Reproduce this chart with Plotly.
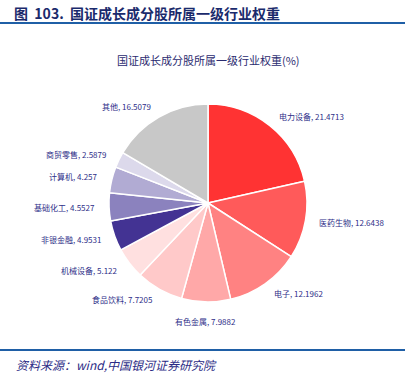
import math
import plotly.graph_objects as go

categories = ["电力设备", "医药生物", "电子", "有色金属", "食品饮料", "机械设备",
              "非银金融", "基础化工", "计算机", "商贸零售", "其他"]
values = [21.4713, 12.6438, 12.1962, 7.9882, 7.7205, 5.122,
          4.9531, 4.5527, 4.257, 2.5879, 16.5079]
colors = ["#FF3333", "#FF5A5A", "#FF8282", "#FFA8A8", "#FFC9C9", "#FFE0E0",
          "#433393", "#8B82BE", "#B1ABD3", "#DCD9EB", "#C8C8C8"]

W, H = 414, 380
cx, cy, r = 208, 203, 99
label_r = r + 12
label_color = "#2E2E88"

fig = go.Figure(go.Pie(
    labels=categories,
    values=values,
    textinfo="none",
    sort=False,
    direction="clockwise",
    rotation=0,
    marker=dict(colors=colors, line=dict(color="white", width=1.5)),
    showlegend=False,
    domain=dict(x=[(cx - r) / W, (cx + r) / W], y=[(H - cy - r) / H, (H - cy + r) / H]),
    hoverinfo="label+value",
))

annotations = []
total = sum(values)
cum = 0.0
for c, v in zip(categories, values):
    mid = (cum + v / 2) / total * 2 * math.pi
    cum += v
    s, co = math.sin(mid), math.cos(mid)
    px = cx + label_r * s
    py = cy - label_r * co
    if abs(s) < 0.25:
        xa = "center"
        ya = "top" if co < 0 else "bottom"
    else:
        xa = "left" if s > 0 else "right"
        ya = "middle"
    annotations.append(dict(
        text=f"{c}, {v:g}", xref="paper", yref="paper",
        x=px / W, y=1 - py / H, xanchor=xa, yanchor=ya, showarrow=False,
        font=dict(family="Noto Sans CJK SC", size=8, color=label_color)))

annotations += [
    dict(text="<b>图  103.  国证成长成分股所属一级行业权重</b>", xref="paper", yref="paper",
         x=12 / W, y=1 - 13 / H, xanchor="left", yanchor="middle", showarrow=False,
         font=dict(family="Noto Sans CJK SC", size=14, color="#1A2A6C")),
    dict(text="国证成长成分股所属一级行业权重(%)", xref="paper", yref="paper",
         x=208 / W, y=1 - 60 / H, xanchor="center", yanchor="middle", showarrow=False,
         font=dict(family="Noto Sans CJK SC", size=11, color="#2B2B70")),
    dict(text="<i>资料来源：wind,中国银河证券研究院</i>", xref="paper", yref="paper",
         x=14 / W, y=1 - 364 / H, xanchor="left", yanchor="middle", showarrow=False,
         font=dict(family="Noto Sans CJK SC", size=12, color="#2B2B85")),
]

fig.update_layout(
    width=W, height=H,
    margin=dict(l=0, r=0, t=0, b=0),
    paper_bgcolor="white",
    plot_bgcolor="white",
    shapes=[
        dict(type="line", xref="paper", yref="paper", x0=0, x1=405 / W,
             y0=1 - 23 / H, y1=1 - 23 / H, line=dict(color="#1F5FA6", width=2)),
        dict(type="line", xref="paper", yref="paper", x0=0, x1=405 / W,
             y0=1 - 350 / H, y1=1 - 350 / H, line=dict(color="#1F5FA6", width=2)),
    ],
    annotations=annotations,
)

fig.write_html("out.html",
               config={"displayModeBar": False},
               post_script="document.body.style.margin='0px';document.body.style.overflow='hidden';")
